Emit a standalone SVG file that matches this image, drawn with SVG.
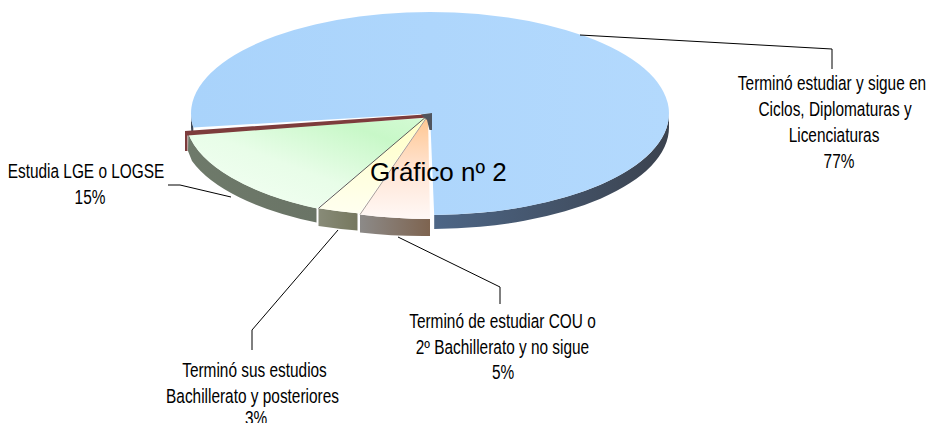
<svg xmlns="http://www.w3.org/2000/svg" width="929" height="423" viewBox="0 0 929 423">
<defs>
  <linearGradient id="gBlueTop" x1="0" y1="0" x2="1" y2="0">
    <stop offset="0" stop-color="#a9d3fb"/><stop offset="0.5" stop-color="#aed6fc"/><stop offset="1" stop-color="#b3d9fd"/>
  </linearGradient>
  <linearGradient id="gBlueSide" x1="0" y1="0" x2="1" y2="0">
    <stop offset="0" stop-color="#4d6686"/><stop offset="1" stop-color="#3b424e"/>
  </linearGradient>
  <linearGradient id="gGreenTop" x1="0" y1="1" x2="1" y2="0">
    <stop offset="0" stop-color="#f6fff6"/><stop offset="0.45" stop-color="#e8fde8"/><stop offset="0.8" stop-color="#c8f8c8"/><stop offset="1" stop-color="#d4fad4"/>
  </linearGradient>
  <linearGradient id="gGreenSide" x1="0" y1="0" x2="1" y2="0">
    <stop offset="0" stop-color="#6e7a6a"/><stop offset="1" stop-color="#6a7466"/>
  </linearGradient>
  <linearGradient id="gYellowTop" x1="0" y1="0" x2="0" y2="1">
    <stop offset="0" stop-color="#ffffc4"/><stop offset="1" stop-color="#fffff0"/>
  </linearGradient>
  <linearGradient id="gYellowSide" x1="0" y1="0" x2="1" y2="0">
    <stop offset="0" stop-color="#888b78"/><stop offset="1" stop-color="#76785e"/>
  </linearGradient>
  <linearGradient id="gPeachTop" x1="0" y1="0" x2="0" y2="1">
    <stop offset="0" stop-color="#ffc58e"/><stop offset="0.55" stop-color="#ffe6d6"/><stop offset="1" stop-color="#fff8f6"/>
  </linearGradient>
  <linearGradient id="gPeachSide" x1="0" y1="0" x2="1" y2="0">
    <stop offset="0" stop-color="#8c8a88"/><stop offset="1" stop-color="#7e6450"/>
  </linearGradient>
</defs>
<style>
  .lbl{font-family:"Liberation Sans",Arial,sans-serif;font-size:19.5px;fill:#000}
  .ttl{font-family:"Liberation Sans",Arial,sans-serif;font-size:26px;fill:#000}
  .lead{fill:none;stroke:#000;stroke-width:1}
  .edge{fill:none;stroke-width:1}
</style>
<rect width="929" height="423" fill="#ffffff"/>

<g id="slice-ciclos">
  <path d="M669,113.5 A239,101.5 0 0 1 434.2,215 L434.2,229 A239,101.5 0 0 0 669,127.5 Z" fill="url(#gBlueSide)"/>
  <path d="M191,113.5 A239,101.5 0 0 0 193.3,127.6 L193.3,141.6 A239,101.5 0 0 1 191,127.5 Z" fill="#3f4a5a"/>
  <path d="M430,113.5 L434.2,215 A239,101.5 0 1 0 193.3,127.6 Z" fill="url(#gBlueTop)"/>
</g>

<g id="slice-lge">
  <path d="M188.3,133.5 A240,101.5 0 0 0 316.5,208.2 L316.5,222.5 A240,101.5 0 0 1 192,161 L188,151 Z" fill="url(#gGreenSide)"/>
  <path d="M426,118 L188.3,133.5 A240,101.5 0 0 0 317,208.5 Z" fill="url(#gGreenTop)"/>
  <polygon points="428,114.3 185,131 185,151 187.5,151 187.5,135.5 428,117.5" fill="#7d3c3c"/>
</g>

<g id="slice-bachillerato">
  <path d="M357.5,213.2 A240,101.5 0 0 1 318.5,208.3 L318.5,226 A240,101.5 0 0 0 357.5,230.5 Z" fill="url(#gYellowSide)"/>
  <path d="M427,116 L359.5,213.5 A240,101.5 0 0 1 318.5,208.3 Z" fill="url(#gYellowTop)"/>
  <line class="edge" x1="427" y1="116" x2="318.5" y2="208.3" stroke="#5a5a5a"/>
</g>

<g id="slice-cou">
  <path d="M430,219 A240,101.5 0 0 1 360,214.5 L360,232.5 A240,101.5 0 0 0 430,236 Z" fill="url(#gPeachSide)"/>
  <path d="M428,115.5 L430,219 A240,101.5 0 0 1 360,214.5 Z" fill="url(#gPeachTop)"/>
  <line class="edge" x1="428" y1="115.5" x2="360" y2="214.5" stroke="#a8a098" stroke-width="0.8"/>
  <polygon points="421,114.6 432,113 432,130 429.5,130 427,120" fill="#50555e"/>
</g>

<g id="connectors">
  <polyline class="lead" points="580,35 832,49 832,69"/>
  <polyline class="lead" points="168,185 180,185 231,197"/>
  <polyline class="lead" points="338,230 252,330 252,350"/>
  <polyline class="lead" points="398,237 500,287 500,304"/>
</g>

<g id="title">
  <text class="ttl" x="370" y="181">Gráfico nº 2</text>
</g>

<g id="label-ciclos">
  <g transform="translate(832,0) scale(0.79,1)"><text class="lbl" text-anchor="middle" x="0" y="90">Terminó estudiar y sigue en</text></g>
  <g transform="translate(835,0) scale(0.79,1)"><text class="lbl" text-anchor="middle" x="0" y="116">Ciclos, Diplomaturas y</text></g>
  <g transform="translate(834,0) scale(0.79,1)"><text class="lbl" text-anchor="middle" x="0" y="142">Licenciaturas</text></g>
  <g transform="translate(839,0) scale(0.79,1)"><text class="lbl" text-anchor="middle" x="0" y="168">77%</text></g>
</g>

<g id="label-lge">
  <g transform="translate(86,0) scale(0.79,1)"><text class="lbl" text-anchor="middle" x="0" y="178">Estudia LGE o LOGSE</text></g>
  <g transform="translate(90,0) scale(0.79,1)"><text class="lbl" text-anchor="middle" x="0" y="204">15%</text></g>
</g>

<g id="label-bachillerato">
  <g transform="translate(254.5,0) scale(0.79,1)"><text class="lbl" text-anchor="middle" x="0" y="377">Terminó sus estudios</text></g>
  <g transform="translate(252.5,0) scale(0.79,1)"><text class="lbl" text-anchor="middle" x="0" y="403">Bachillerato y posteriores</text></g>
  <g transform="translate(256,0) scale(0.79,1)"><text class="lbl" text-anchor="middle" x="0" y="425">3%</text></g>
</g>

<g id="label-cou">
  <g transform="translate(502.5,0) scale(0.79,1)"><text class="lbl" text-anchor="middle" x="0" y="328">Terminó de estudiar COU o</text></g>
  <g transform="translate(502.5,0) scale(0.79,1)"><text class="lbl" text-anchor="middle" x="0" y="354">2º Bachillerato y no sigue</text></g>
  <g transform="translate(503,0) scale(0.79,1)"><text class="lbl" text-anchor="middle" x="0" y="379.5">5%</text></g>
</g>
</svg>
